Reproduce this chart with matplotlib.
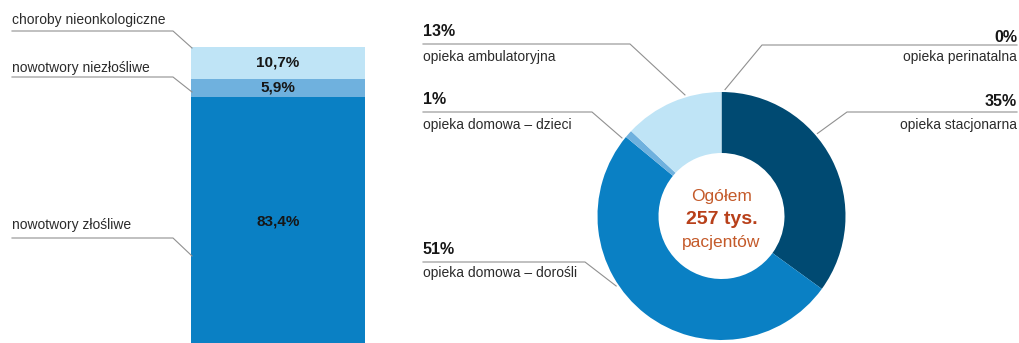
import numpy as np
import matplotlib
matplotlib.use("Agg")
import matplotlib.pyplot as plt

plt.rcParams['font.family'] = ['Liberation Sans', 'DejaVu Sans']

# --- dane: struktura pacjentów wg choroby (słupek) ---
bar_labels = ['nowotwory złośliwe', 'nowotwory niezłośliwe', 'choroby nieonkologiczne']
bar_values = [83.4, 5.9, 10.7]
bar_texts = ['83,4%', '5,9%', '10,7%']
bar_colors = ['#0a80c4', '#6fb1de', '#bfe4f6']

# --- dane: rodzaj opieki (pierścień) ---
pie_labels = ['opieka stacjonarna', 'opieka domowa – dorośli', 'opieka domowa – dzieci',
              'opieka ambulatoryjna', 'opieka perinatalna']
pie_values = [35, 51, 1, 13, 0]
pie_colors = ['#004a72', '#0a80c4', '#6fb1de', '#bfe4f6', '#9fd3f0']

W, H = 1019, 343
fig = plt.figure(figsize=(W / 100, H / 100), dpi=100)
fig.patch.set_facecolor('white')

line_col = '#909090'
txt_col = '#2b2b2b'
pct_col = '#161616'

# słupek skumulowany
axb = fig.add_axes([191 / W, -3 / H, 174 / W, 299 / H])
bottom = 0
for v, c, t in zip(bar_values, bar_colors, bar_texts):
    axb.bar(0, v, bottom=bottom, width=1, color=c, linewidth=0)
    axb.text(0, bottom + v / 2, t, ha='center', va='center', fontsize=11,
             fontweight='bold', color=pct_col)
    bottom += v
axb.set_xlim(-0.5, 0.5)
axb.set_ylim(0, 100)
axb.axis('off')

# pierścień
cx, cy, R = 721.5, 216, 124
axp = fig.add_axes([(cx - R) / W, (H - cy - R) / H, 2 * R / W, 2 * R / H])
axp.pie(pie_values, colors=pie_colors, startangle=90, counterclock=False,
        radius=1, wedgeprops=dict(width=1 - 63 / 124, linewidth=0))
axp.set_xlim(-1, 1)
axp.set_ylim(-1, 1)
axp.axis('off')
axp.text(0, 0.155, 'Ogółem', ha='center', va='center', fontsize=12.5, color='#c45a2a')
axp.text(0, -0.03, '257 tys.', ha='center', va='center', fontsize=14,
         fontweight='bold', color='#b8401a')
axp.text(0, -0.215, 'pacjentów', ha='center', va='center', fontsize=12.5, color='#c45a2a')

# warstwa z opisami i liniami (współrzędne pikselowe)
ov = fig.add_axes([0, 0, 1, 1])
ov.set_xlim(0, W)
ov.set_ylim(H, 0)
ov.axis('off')
ov.patch.set_visible(False)

# opisy słupka: (tekst y, linia y, koniec y)
bar_layout = [(225, 238, 256), (68, 77, 92), (20, 31, 48)]
for lab, (ty, ly, ey) in zip(bar_labels, bar_layout):
    ov.text(12, ty, lab, ha='left', va='center', fontsize=10, color=txt_col)
    ov.plot([12, 173, 192], [ly, ly, ey], color=line_col, lw=0.8)

# opisy pierścienia: (strona, y procentu, y linii, x załamania, kąt końca, y opisu)
pie_layout = [
    ('R', 102, 112, 847, 40.7, 125),
    ('L', 250, 262, 585, 213.6, 273),
    ('L', 100, 112, 592, 141.9, 125),
    ('L', 32, 44, 630, 106.8, 57),
    ('R', 37, 45, 762, 88.4, 57),
]
for lab, v, (side, py, ly, kx, ang, ty) in zip(pie_labels, pie_values, pie_layout):
    a = np.deg2rad(ang)
    ex = cx + 1.02 * R * np.cos(a)
    ey = cy - 1.02 * R * np.sin(a)
    if side == 'L':
        x0, ha = 423, 'left'
    else:
        x0, ha = 1017, 'right'
    ov.plot([x0, kx, ex], [ly, ly, ey], color=line_col, lw=0.8)
    ov.text(x0, py, f'{v}%', ha=ha, va='center', fontsize=11.5,
            fontweight='bold', color=pct_col)
    ov.text(x0, ty, lab, ha=ha, va='center', fontsize=10, color=txt_col)

fig.savefig('out.png', dpi=100, facecolor='white')
